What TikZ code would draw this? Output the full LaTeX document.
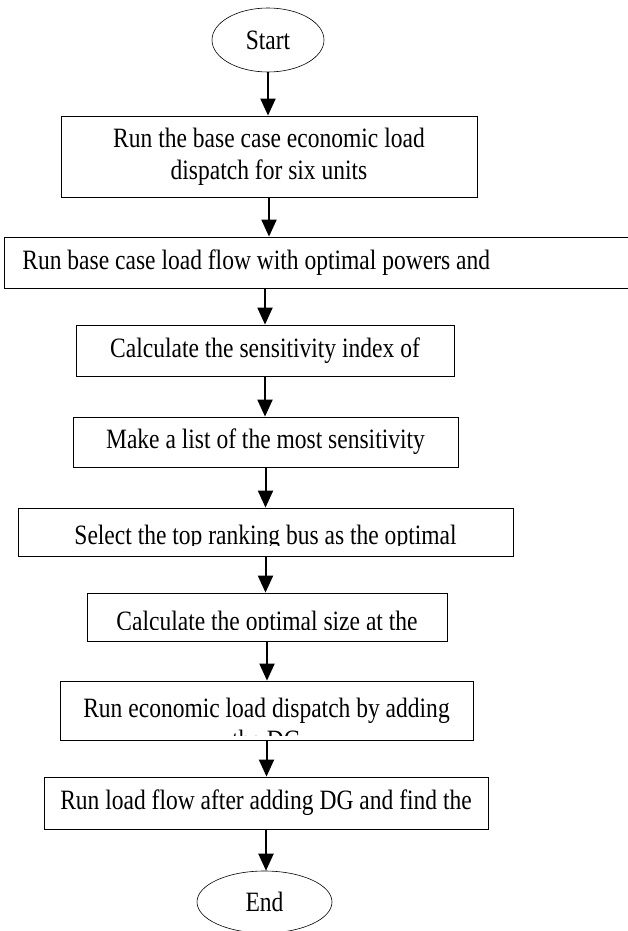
\documentclass[tikz,border=0pt]{standalone}
\usepackage{fontspec}
\setmainfont{Liberation Serif}[FakeStretch=0.84]
\usepackage{tikz}
\usetikzlibrary{shapes.geometric,arrows.meta}

\begin{document}
\begin{tikzpicture}[x=1pt, y=-1pt,
  stepbox/.style={draw, line width=0.8pt, inner sep=0pt, align=center, font=\fontsize{28}{32}\selectfont},
  term/.style={draw, ellipse, line width=0.6pt, inner sep=0pt, font=\fontsize{28}{32}\selectfont},
  cliptext/.style={anchor=base, inner sep=0pt, font=\fontsize{28}{32}\selectfont},
  arr/.style={-{Triangle[length=17pt,width=15pt]}, line width=2pt}]
  \useasboundingbox (0,0) rectangle (628,931);
  \node[term, minimum width=112, minimum height=64] (start) at (268,40) {Start};
  \node[stepbox, minimum width=416, minimum height=81] (ebase) at (269,156.5) {Run the base case economic load\\dispatch for six units};
  \node[stepbox, anchor=west, text width=604, inner xsep=18, minimum height=51, align=flush left] (lflow) at (4,262.5) {Run base case load flow with optimal powers and};
  \node[stepbox, minimum width=378, minimum height=51] (sens) at (265,350.5) {Calculate the sensitivity index of};
  \node[stepbox, minimum width=385, minimum height=50] (list) at (265.5,442) {Make a list of the most sensitivity};
  \node[stepbox, minimum width=495, minimum height=48] (sel) at (265.5,532) {};
  \node[stepbox, minimum width=360, minimum height=48] (size) at (267,617) {};
  \node[stepbox, minimum width=413, minimum height=59] (eld) at (266.5,710.5) {};
  \node[stepbox, minimum width=444, minimum height=52] (ldg) at (266,803) {Run load flow after adding DG and find the};
  \node[term, minimum width=135, minimum height=62] (end) at (264.5,902) {End};
  \begin{scope}
    \clip (sel.north west) rectangle ([yshift=11pt]sel.south east);
    \node[cliptext] (seltext) at ([yshift=-12pt]sel.center) {Select the top ranking bus as the optimal};
  \end{scope}
  \begin{scope}
    \clip (size.north west) rectangle ([yshift=12pt]size.south east);
    \node[cliptext] (sizetext) at ([yshift=-13pt]size.center) {Calculate the optimal size at the};
  \end{scope}
  \begin{scope}
    \clip (eld.north west) rectangle ([yshift=5pt]eld.south east);
    \node[cliptext] (eldtext) at ([yshift=-6.5pt]eld.center) {Run economic load dispatch by adding};
    \node[cliptext] (eldmore) at ([yshift=-38.5pt]eld.center) {the DG};
  \end{scope}
  \path[arr]
  (start.south) edge (start.south |- ebase.north)
  (ebase.south) edge (ebase.south |- lflow.north)
  (lflow.south -| sens.north) edge (sens.north)
  (sens.south) edge (sens.south |- list.north)
  (list.south) edge (list.south |- sel.north)
  (sel.south) edge (sel.south |- size.north)
  (size.south) edge (size.south |- eld.north)
  (eld.south) edge (eld.south |- ldg.north)
  (ldg.south) edge (ldg.south |- end.north)
  ;
\end{tikzpicture}
\end{document}
